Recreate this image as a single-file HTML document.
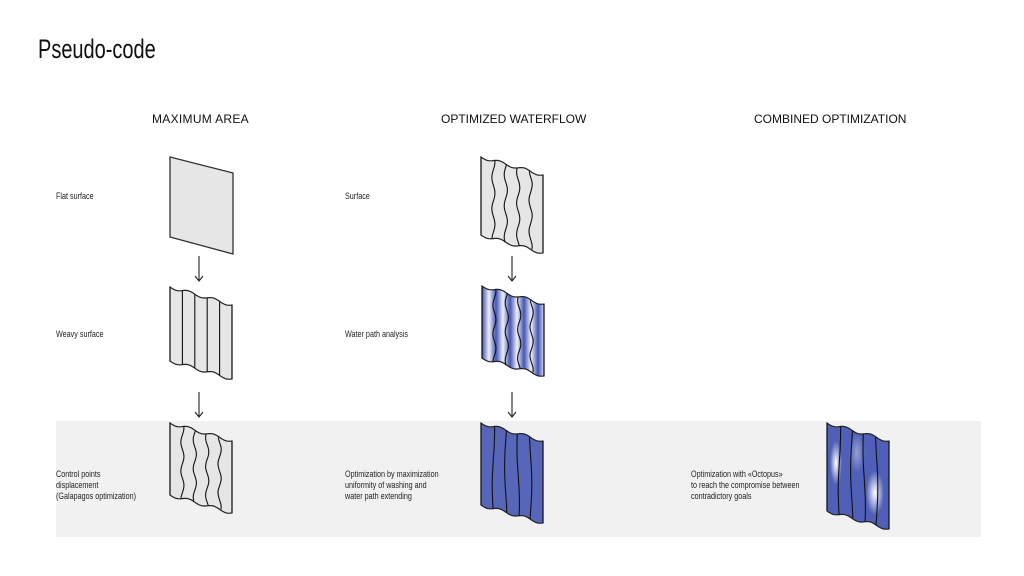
<!DOCTYPE html>
<html><head><meta charset="utf-8"><style>
body{margin:0;width:1024px;height:576px;background:#fff;position:relative;overflow:hidden;font-family:"Liberation Sans",sans-serif}
.t{position:absolute;white-space:nowrap}
.h{font-size:12px;color:#111}
.s{font-size:9px;line-height:11px;color:#222;transform:scaleX(0.8);transform-origin:left top}
</style></head><body>
<div style="position:absolute;left:56px;top:421px;width:925px;height:116px;background:#f1f1f1"></div>
<div class="t" style="left:38px;top:34px;font-size:27px;color:#111;transform:scaleX(0.74);transform-origin:left">Pseudo-code</div>
<div class="t h" style="left:152px;top:112px;letter-spacing:0.3px">MAXIMUM AREA</div>
<div class="t h" style="left:441px;top:112px">OPTIMIZED WATERFLOW</div>
<div class="t h" style="left:754px;top:112px">COMBINED OPTIMIZATION</div>
<div class="t s" style="left:56px;top:191px">Flat surface</div>
<div class="t s" style="left:56px;top:329px">Weavy surface</div>
<div class="t s" style="left:56px;top:469px">Control points<br>displacement<br>(Galapagos optimization)</div>
<div class="t s" style="left:345px;top:191px">Surface</div>
<div class="t s" style="left:345px;top:329px">Water path analysis</div>
<div class="t s" style="left:345px;top:469px">Optimization by maximization<br>uniformity of washing and<br>water path extending</div>
<div class="t s" style="left:691px;top:469px">Optimization with «Octopus»<br>to reach the compromise between<br>contradictory goals</div>
<svg id="g" width="1024" height="576" style="position:absolute;left:0;top:0">
<defs>
<linearGradient id="stripe" gradientUnits="userSpaceOnUse" x1="482" x2="496" y1="0" y2="0" spreadMethod="repeat">
<stop offset="0" stop-color="#4555b3"/><stop offset="0.5" stop-color="#eef0fa"/><stop offset="1" stop-color="#4555b3"/></linearGradient>
<radialGradient id="w1" cx="0.5" cy="0.5" r="0.5"><stop offset="0" stop-color="#fff"/><stop offset="1" stop-color="#fff" stop-opacity="0"/></radialGradient>
</defs>
<polygon points="170,157 233,173 233,254 170,237" fill="#e6e6e6" stroke="#333" stroke-width="1.3"/>
<g stroke="#222" stroke-width="1.1">
<line x1="199" y1="256" x2="199" y2="280"/><polyline points="195,276 199,281 203,276" fill="none"/>
<line x1="199" y1="392" x2="199" y2="416"/><polyline points="195,412 199,417 203,412" fill="none"/>
<line x1="512" y1="256" x2="512" y2="280"/><polyline points="508,276 512,281 516,276" fill="none"/>
<line x1="512" y1="392" x2="512" y2="416"/><polyline points="508,412 512,417 516,412" fill="none"/>
</g>
</svg>
<script>
var g=document.getElementById('g'),NS='http://www.w3.org/2000/svg';
function el(n,a){var e=document.createElementNS(NS,n);for(var k in a)e.setAttribute(k,a[k]);g.appendChild(e);return e}
function off(f){return 1.6*Math.sin(f*Math.PI*5)}
function edge(x0,y0,w,dy){var p=[];for(var i=0;i<=40;i++){var t=i/40;p.push([x0+w*t,y0+dy*t+off(t)]);}return p}
function panel(x0,y0,h,fill,wave,freq,extra){
 var w=62,dy=18,top=edge(x0,y0,w,dy),bot=edge(x0,y0+h,w,dy).reverse();
 var pts=top.concat(bot).map(function(p){return p[0].toFixed(1)+','+p[1].toFixed(1)}).join(' ');
 el('polygon',{points:pts,fill:fill,stroke:'#222','stroke-width':1.2});
 if(extra)extra(x0,y0,h);
 var xs=[0.0,0.2,0.4,0.6,0.8,1.0];
 xs.forEach(function(f,j){var d='';var ww=(j==0||j==5)?0:wave;for(var i=0;i<=30;i++){var t=i/30;var x=x0+w*f+ww*Math.sin(t*Math.PI*freq+j*1.3);var y=y0+dy*f+h*t+off(f);d+=(i?'L':'M')+x.toFixed(1)+' '+y.toFixed(1);}
 el('path',{d:d,fill:'none',stroke:'#111','stroke-width':1.1});});
}
panel(170,287,74,'#e6e6e6',0,1);
panel(170,423,72,'#e6e6e6',1.6,5);
panel(481,157,78,'#e6e6e6',1.6,5);
panel(482,286,72,'url(#stripe)',1.6,5);
panel(481,423,82,'#5766b9',1.2,1.5);
panel(827,423,88,'#5060b8',1.2,1.5,function(x,y,h){
 el('ellipse',{cx:x+9,cy:y+40,rx:6,ry:22,fill:'url(#w1)'});
 el('ellipse',{cx:x+48,cy:y+70,rx:9,ry:22,fill:'url(#w1)'});
 el('ellipse',{cx:x+30,cy:y+30,rx:8,ry:20,fill:'url(#w1)',opacity:0.4});
});
</script>
</body></html>
